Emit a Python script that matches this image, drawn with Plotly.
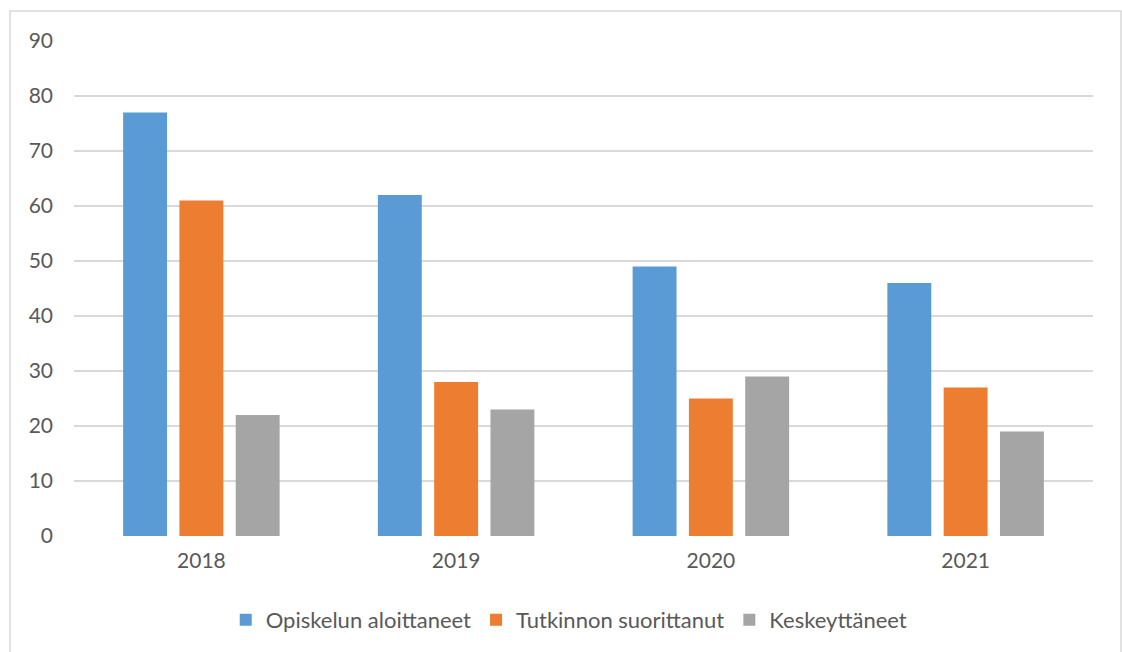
import plotly.graph_objects as go

years = ["2018", "2019", "2020", "2021"]
aloittaneet = [77, 62, 49, 46]
suorittanut = [61, 28, 25, 27]
keskeyttaneet = [22, 23, 29, 19]
series_names = ["Opiskelun aloittaneet", "Tutkinnon suorittanut", "Keskeyttäneet"]
colors = ["#5B9BD5", "#ED7D31", "#A5A5A5"]
y_ticks = [0, 10, 20, 30, 40, 50, 60, 70, 80, 90]

fig = go.Figure()
for name, vals, col in zip(series_names, [aloittaneet, suorittanut, keskeyttaneet], colors):
    fig.add_trace(go.Bar(x=years, y=vals, name=name, marker=dict(color=col, line=dict(width=0))))

font = dict(family="Lato, 'Open Sans', sans-serif", size=21, color="#595959")
legend_font = dict(family="Lato, 'Open Sans', sans-serif", size=22, color="#595959")

fig.update_layout(
    width=1122, height=652,
    margin=dict(l=74, r=29, t=41, b=115),
    paper_bgcolor="white", plot_bgcolor="white",
    barmode="group", bargap=0.337, bargroupgap=0.22,
    font=font,
    showlegend=True,
    legend=dict(orientation="h", x=0.486, xanchor="center", y=-0.167, yanchor="middle",
                font=legend_font, itemwidth=30, traceorder="normal"),
    xaxis=dict(showgrid=False, zeroline=False, showline=False, ticks="", tickfont=font,
               ticklabelstandoff=10),
    yaxis=dict(range=[0, 90], tickvals=y_ticks, showgrid=True, gridcolor="#D9D9D9", gridwidth=1.5,
               zeroline=False, showline=False, ticks="", tickfont=font, ticklabelstandoff=20),
    shapes=[dict(type="rect", xref="paper", yref="paper",
                 x0=-0.0628, x1=1.0275, y0=-0.26, y1=1.0605,
                 line=dict(color="#D9D9D9", width=1.5), fillcolor="rgba(0,0,0,0)", layer="below")],
)

fig.write_html("out.html")
